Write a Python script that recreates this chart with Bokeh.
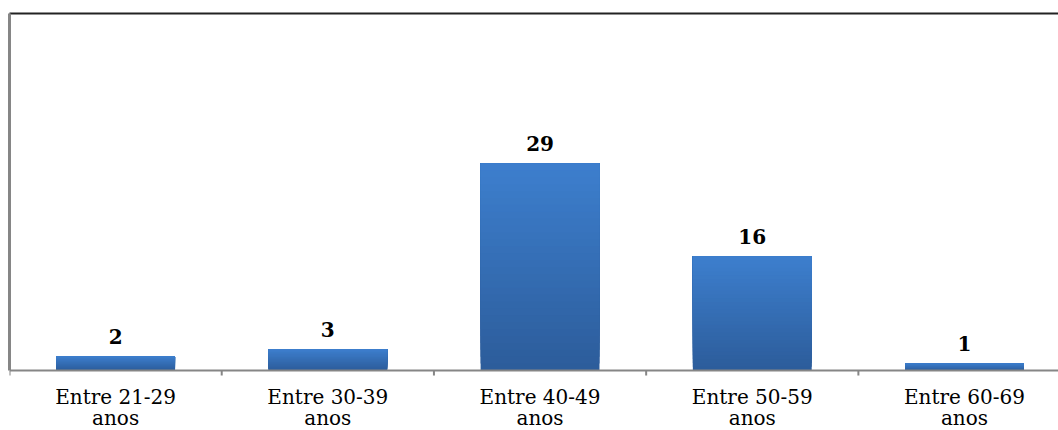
from bokeh.plotting import figure
from bokeh.models import FixedTicker, Range1d, LinearAxis, ColumnDataSource, Span
from bokeh.core.properties import value
from bokeh.embed import file_html
from bokeh.resources import INLINE

categories = ["Entre 21-29\nanos", "Entre 30-39\nanos", "Entre 40-49\nanos",
              "Entre 50-59\nanos", "Entre 60-69\nanos"]
values = [2, 3, 29, 16, 1]
value_labels = ["2", "3", "29", "16", "1"]

TOP_RGB = (61, 127, 206)
BOT_RGB = (44, 92, 154)
N = 30

xs = [i + 0.5 for i in range(len(categories))]
bounds = [float(i) for i in range(len(categories) + 1)]

Y_TOP, Y_BOT = 50.0, -8.4
X_END = 4.943
FRAME_H = 417
UNIT_PX = FRAME_H / (Y_TOP - Y_BOT)
TICK_PX = 5

# gradient layers derived from the values (each layer spans up to the bar top)
bx, bb, bt, bc = [], [], [], []
for x, v in zip(xs, values):
    for k in range(N):
        f = (k + 0.5) / N
        r = round(BOT_RGB[0] + (TOP_RGB[0] - BOT_RGB[0]) * f)
        g = round(BOT_RGB[1] + (TOP_RGB[1] - BOT_RGB[1]) * f)
        b = round(BOT_RGB[2] + (TOP_RGB[2] - BOT_RGB[2]) * f)
        bx.append(x)
        bb.append(v * k / N)
        bt.append(v)
        bc.append("#%02x%02x%02x" % (r, g, b))

p = figure(width=1058, height=430, output_backend="svg", toolbar_location=None,
           x_range=Range1d(0, X_END), y_range=Range1d(Y_BOT, Y_TOP),
           min_border_left=9, min_border_right=0, min_border_top=13, min_border_bottom=0,
           x_axis_location=None, y_axis_location=None)
p.grid.visible = False
p.outline_line_color = None
p.background_fill_color = "white"
p.border_fill_color = "white"

src = ColumnDataSource(dict(x=bx, bottom=bb, top=bt, color=bc))
p.vbar(x="x", bottom="bottom", top="top", width=0.56, fill_color="color",
       line_color=None, source=src)

# category axis: baseline, boundary ticks and two-line labels
p.add_layout(Span(location=0, dimension="width", line_color="#868686", line_width=2))
tick_src = ColumnDataSource(dict(x=bounds, y0=[0] * len(bounds),
                                 y1=[-TICK_PX / UNIT_PX] * len(bounds)))
p.segment(x0="x", y0="y0", x1="x", y1="y1", source=tick_src,
          line_color="#868686", line_width=2)

cat_src = ColumnDataSource(dict(x=xs, y=[0] * len(xs), t=categories))
p.text(x="x", y="y", text="t", source=cat_src, text_align="center",
       text_baseline="top", y_offset=14, text_line_height=0.9,
       text_font=value("DejaVu Serif"), text_font_size="20px", text_color="black")

lab = ColumnDataSource(dict(x=xs, y=values, t=value_labels))
p.text(x="x", y="y", text="t", source=lab, text_align="center",
       text_baseline="alphabetic", y_offset=-20,
       text_font=value("DejaVu Serif"), text_font_style="bold",
       text_font_size="20px", text_color="black")

# left axis line only, from 0 to the top
ya = LinearAxis(ticker=FixedTicker(ticks=[]), bounds=(0, Y_TOP))
ya.major_tick_out = 0
ya.major_tick_in = 0
ya.minor_tick_out = 0
ya.minor_tick_in = 0
ya.major_label_text_font_size = "0px"
ya.major_label_standoff = 0
ya.axis_line_color = "#868686"
ya.axis_line_width = 3
p.add_layout(ya, "left")

# top border line
ta = LinearAxis(ticker=FixedTicker(ticks=[]))
ta.major_tick_out = 0
ta.major_tick_in = 0
ta.minor_tick_out = 0
ta.minor_tick_in = 0
ta.major_label_text_font_size = "0px"
ta.major_label_standoff = 0
ta.axis_line_color = "#222222"
ta.axis_line_width = 2
p.add_layout(ta, "above")

open("out.html", "w").write(file_html(p, INLINE))
